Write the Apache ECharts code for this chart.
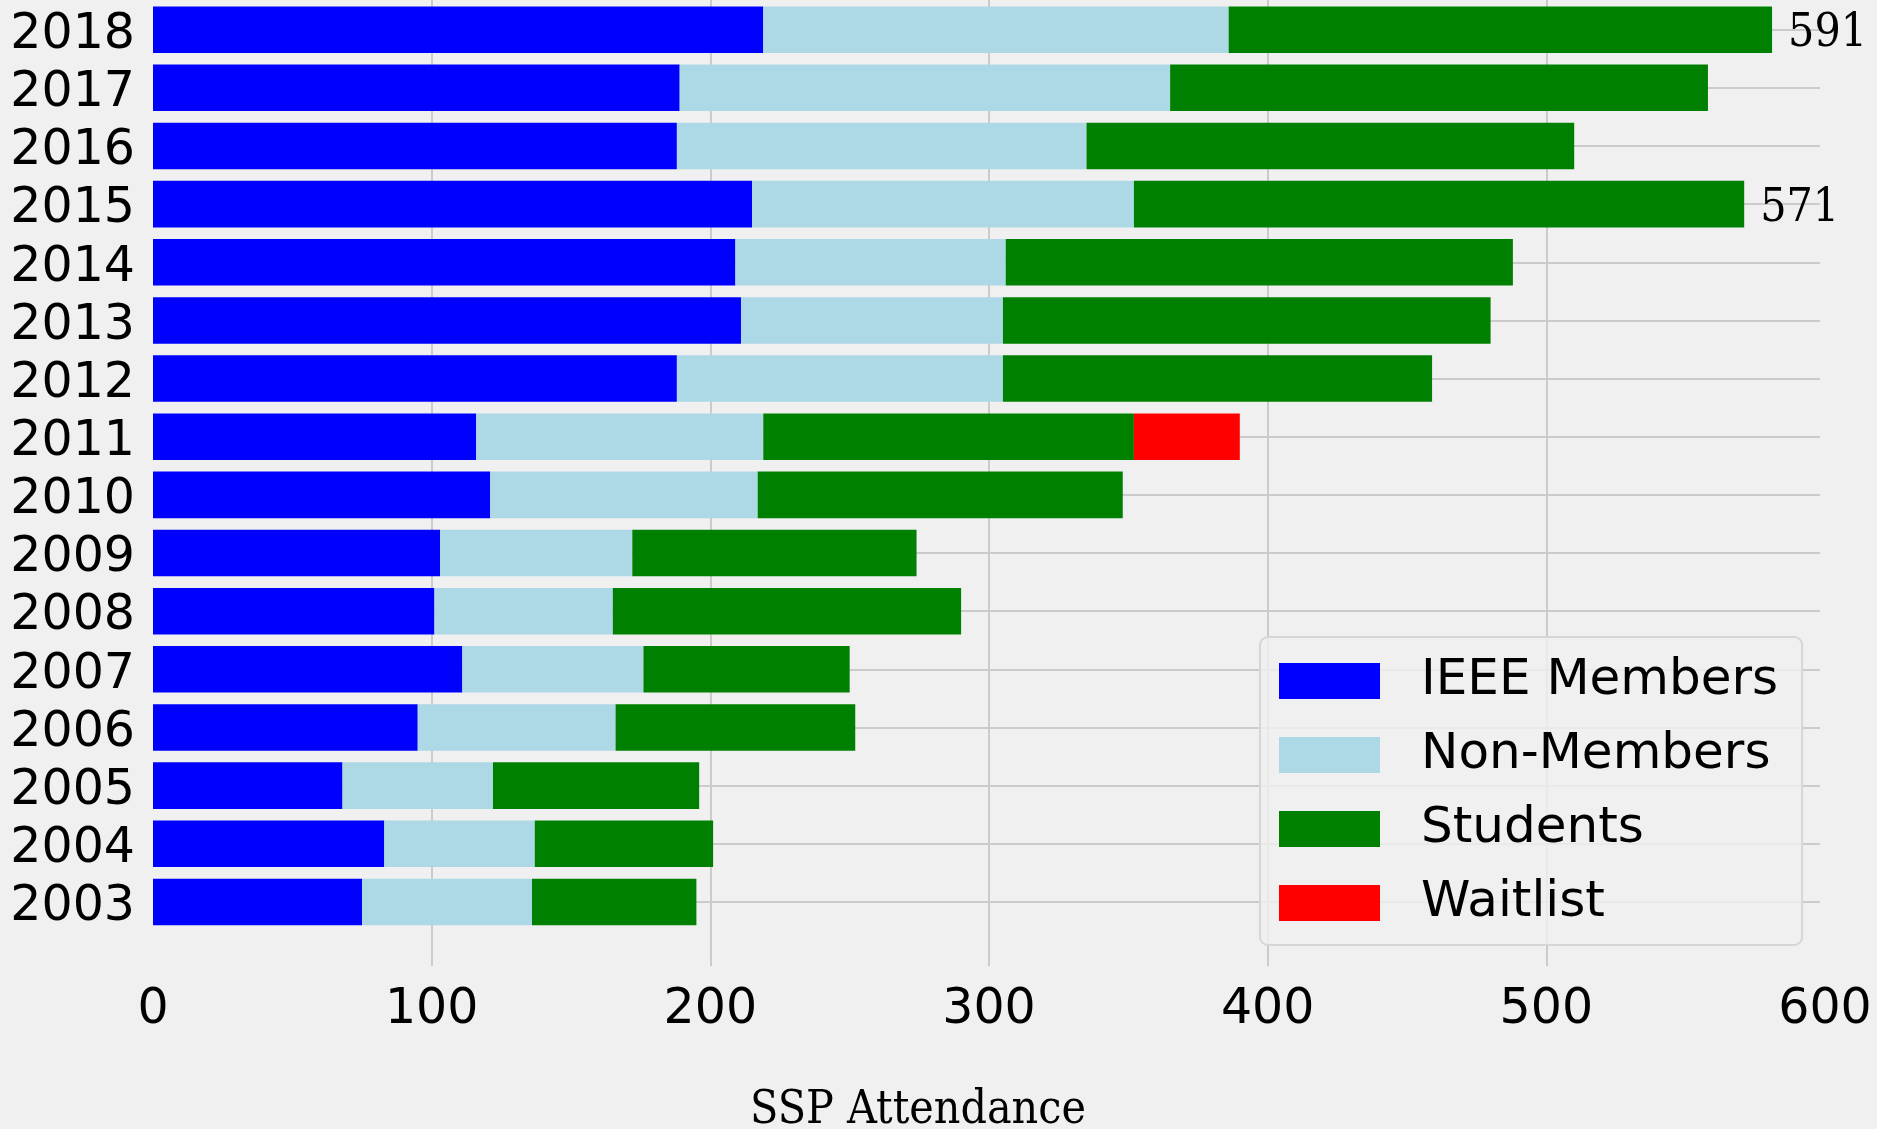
<!DOCTYPE html>
<html>
<head>
<meta charset="utf-8">
<script src="https://cdn.jsdelivr.net/npm/echarts@6/dist/echarts.min.js"></script>
<style>
html,body{margin:0;padding:0;background:#f0f0f0;}
#chart{width:1877px;height:1129px;}
</style>
</head>
<body>
<div id="chart"></div>
<script>
const years = ['2003','2004','2005','2006','2007','2008','2009','2010','2011','2012','2013','2014','2015','2016','2017','2018'];
const ieeeMembers = [75, 83, 68, 95, 111, 101, 103, 121, 116, 188, 211, 209, 215, 188, 189, 219];
const nonMembers  = [61, 54, 54, 71, 65, 64, 69, 96, 103, 117, 94, 97, 137, 147, 176, 167];
const students    = [59, 64, 74, 86, 74, 125, 102, 131, 133, 154, 175, 182, 219, 175, 193, 195];
const waitlist    = [null, null, null, null, null, null, null, null, 38, null, null, null, null, null, null, null];
const totalLabels = ['', '', '', '', '', '', '', '', '', '', '', '', '571', '', '', '591'];
const xTicks = [0, 100, 200, 300, 400, 500, 600];
const seriesNames = ['IEEE Members', 'Non-Members', 'Students', 'Waitlist'];

const chart = echarts.init(document.getElementById('chart'), null, {renderer: 'canvas'});
const sansFont = "'DejaVu Sans', sans-serif";
const serifFont = "'DejaVu Serif Condensed', 'DejaVu Serif', serif";
const gridColor = '#cbcbcb';

const studentData = students.map((v, i) => totalLabels[i] ? {
  value: v,
  label: {show: true, formatter: '{t|' + totalLabels[i] + '}'}
} : v);

chart.setOption({
  backgroundColor: '#f0f0f0',
  animation: false,
  grid: [
    {left: 153, right: 52, top: 0.6, bottom: 198, containLabel: false, outerBoundsMode: 'none'},
    {left: 153, right: 52, top: 0, bottom: 163, containLabel: false, outerBoundsMode: 'none'},
    {left: 153, right: 57, top: 29.7, bottom: 227, containLabel: false, outerBoundsMode: 'none'}
  ],
  xAxis: [
    {gridIndex: 0, type: 'value', min: 0, max: 600, show: false},
    {gridIndex: 1, type: 'value', min: xTicks[0], max: xTicks[xTicks.length - 1], interval: 100,
      axisLine: {show: false}, axisTick: {show: false},
      axisLabel: {fontSize: 49, fontFamily: sansFont, color: '#000', margin: 20},
      splitLine: {show: true, showMinLine: false, showMaxLine: false, lineStyle: {color: gridColor, width: 2}},
      name: 'SSP Attendance', nameLocation: 'middle', nameGap: 122,
      nameTextStyle: {fontSize: 46, fontFamily: serifFont, color: '#000', padding: [0, 142, 0, 0]}
    },
    {gridIndex: 2, type: 'value', min: 0, max: 600, show: false}
  ],
  yAxis: [
    {gridIndex: 0, type: 'category', data: years,
      axisLine: {show: false}, axisTick: {show: false}, splitLine: {show: false},
      axisLabel: {interval: 0, margin: 18,
        formatter: (v) => '{y|' + v + '}',
        rich: {y: {fontSize: 49, fontFamily: sansFont, color: '#000', padding: [11, 0, 0, 0]}}
      }
    },
    {gridIndex: 1, type: 'value', min: 0, max: 1, show: false},
    {gridIndex: 2, type: 'value', min: 0, max: 15, interval: 1,
      axisLine: {show: false}, axisTick: {show: false}, axisLabel: {show: false},
      splitLine: {show: true, lineStyle: {color: gridColor, width: 2}}
    }
  ],
  legend: {
    orient: 'vertical',
    left: 1260, top: 637,
    data: seriesNames,
    icon: 'rect',
    itemWidth: 101, itemHeight: 36, itemGap: 24,
    padding: [19, 24, 17, 19],
    backgroundColor: 'rgba(240,240,240,0.8)',
    borderColor: '#d6d6d6', borderWidth: 2, borderRadius: 8,
    textStyle: {fontSize: 50, fontFamily: sansFont, color: '#000', lineHeight: 50, padding: [0, 0, 0, 36]}
  },
  series: [
    {name: seriesNames[0], type: 'bar', stack: 'total', xAxisIndex: 0, yAxisIndex: 0,
      barWidth: '80%', itemStyle: {color: '#0000ff'}, data: ieeeMembers, z: 3},
    {name: seriesNames[1], type: 'bar', stack: 'total', xAxisIndex: 0, yAxisIndex: 0,
      barWidth: '80%', itemStyle: {color: '#add8e6'}, data: nonMembers, z: 3},
    {name: seriesNames[2], type: 'bar', stack: 'total', xAxisIndex: 0, yAxisIndex: 0,
      barWidth: '80%', itemStyle: {color: '#008000'}, data: studentData, z: 3,
      label: {show: false, position: 'right', distance: 16,
        rich: {t: {fontSize: 46, fontFamily: serifFont, color: '#000', padding: [9, 0, 0, 0]}}}},
    {name: seriesNames[3], type: 'bar', stack: 'total', xAxisIndex: 0, yAxisIndex: 0,
      barWidth: '80%', itemStyle: {color: '#ff0000'}, data: waitlist, z: 3}
  ]
});
</script>
</body>
</html>
